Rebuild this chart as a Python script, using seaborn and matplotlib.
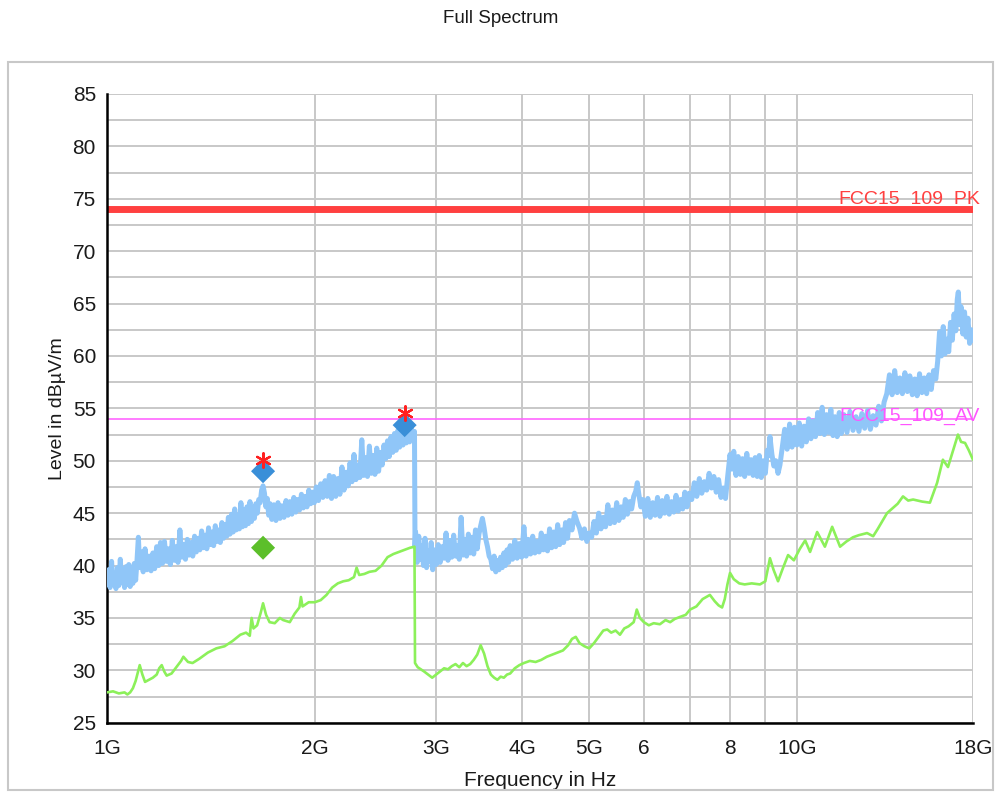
import matplotlib
matplotlib.use("Agg")
import matplotlib.pyplot as plt
import matplotlib.ticker as mticker
from matplotlib.patches import Rectangle
import seaborn as sns

# peak trace (GHz, dBuV/m)
blue_freq = [
    1.000, 1.005, 1.010, 1.015, 1.020, 1.025, 1.030, 1.035, 1.040, 1.045, 1.050,
    1.055, 1.060, 1.065, 1.070, 1.075, 1.080, 1.085, 1.090, 1.095, 1.100,
    1.105, 1.110, 1.115, 1.120, 1.128, 1.135, 1.142, 1.150, 1.158, 1.165, 1.172,
    1.180, 1.188, 1.195,
    1.203, 1.211, 1.219, 1.227, 1.235, 1.243, 1.251, 1.259, 1.267, 1.275, 1.283,
    1.291, 1.299, 1.307, 1.315, 1.323, 1.331, 1.339, 1.347, 1.355,
    1.363, 1.371, 1.379, 1.387, 1.395, 1.403, 1.411, 1.419, 1.427, 1.435, 1.443,
    1.451, 1.459, 1.467, 1.475, 1.483, 1.491, 1.499,
    1.507, 1.515, 1.523, 1.531, 1.539, 1.547, 1.555, 1.563, 1.571, 1.579, 1.587,
    1.595, 1.603, 1.611, 1.619, 1.627, 1.635, 1.643, 1.651, 1.659,
    1.667, 1.675, 1.683, 1.691, 1.699, 1.707, 1.715, 1.723,
    1.733, 1.745, 1.757, 1.769, 1.781, 1.793, 1.805, 1.817, 1.829, 1.841, 1.853,
    1.865, 1.877, 1.889, 1.901, 1.913, 1.925, 1.937, 1.949, 1.961, 1.973, 1.985,
    1.997, 2.010, 2.025, 2.040, 2.055, 2.070, 2.085, 2.100,
    2.115, 2.130, 2.145, 2.160, 2.175, 2.190, 2.205, 2.220, 2.235, 2.250, 2.265,
    2.280, 2.295, 2.310, 2.325, 2.340, 2.355, 2.370, 2.385, 2.400, 2.415, 2.430,
    2.445, 2.460, 2.475, 2.490,
    2.505, 2.520, 2.535, 2.550, 2.565, 2.580, 2.595, 2.610, 2.625, 2.640, 2.655,
    2.670, 2.685, 2.700, 2.715, 2.730, 2.745, 2.760, 2.775, 2.790,
    2.795,
    2.800, 2.815, 2.830, 2.845, 2.860, 2.875, 2.890, 2.905, 2.920, 2.935, 2.950,
    2.965, 2.980, 3.00, 3.02, 3.04, 3.06, 3.08, 3.10, 3.12, 3.14, 3.16, 3.18,
    3.20, 3.22, 3.24, 3.26, 3.28, 3.30, 3.32, 3.34, 3.36, 3.38, 3.40, 3.42, 3.44,
    3.46, 3.48, 3.50, 3.52, 3.54, 3.56, 3.58,
    3.60, 3.62, 3.64, 3.66, 3.68, 3.70, 3.72, 3.74, 3.76, 3.78, 3.80, 3.82, 3.84,
    3.87, 3.90, 3.93, 3.96, 3.99, 4.02, 4.05, 4.08, 4.11, 4.14, 4.17, 4.20, 4.23,
    4.26, 4.29, 4.32, 4.35, 4.38, 4.41, 4.44, 4.47, 4.50, 4.53, 4.56, 4.59, 4.62,
    4.65, 4.68,
    4.72, 4.76, 4.80, 4.84, 4.88, 4.92, 4.96, 5.00, 5.04,
    5.08, 5.12, 5.16, 5.20, 5.24, 5.28, 5.32, 5.36, 5.40, 5.44, 5.48, 5.52, 5.56,
    5.60, 5.64, 5.68, 5.72, 5.76, 5.80,
    5.84, 5.87, 5.90, 5.94, 5.98,
    6.03, 6.08, 6.13, 6.18, 6.23, 6.28, 6.33, 6.38, 6.43, 6.48, 6.53, 6.58, 6.63,
    6.68, 6.73, 6.78, 6.83, 6.88, 6.93, 6.98,
    7.04, 7.10, 7.16, 7.22, 7.28, 7.34, 7.40, 7.46, 7.52, 7.58, 7.64, 7.70, 7.76,
    7.82, 7.88,
    7.94, 8.00, 8.05, 8.10,
    8.16, 8.22, 8.28, 8.34, 8.40, 8.46, 8.52, 8.58, 8.64, 8.70, 8.76, 8.82, 8.88,
    8.94, 9.00, 9.06,
    9.10, 9.14, 9.20, 9.26, 9.32, 9.39, 9.45,
    9.52, 9.60, 9.68, 9.76, 9.84, 9.92, 10.00, 10.08, 10.16, 10.24, 10.32, 10.40,
    10.48,
    10.56, 10.64, 10.72, 10.80, 10.88, 10.96, 11.04, 11.12, 11.20, 11.28, 11.36,
    11.44, 11.52, 11.60,
    11.70, 11.82, 11.94, 12.06, 12.18, 12.30, 12.42, 12.54, 12.66, 12.78, 12.90,
    13.02, 13.14, 13.26, 13.38,
    13.50, 13.62, 13.74, 13.86, 13.98, 14.10, 14.22, 14.34, 14.46, 14.58, 14.70,
    14.82, 14.94, 15.06, 15.18, 15.30, 15.42, 15.54, 15.66, 15.78, 15.90,
    16.00, 16.10, 16.20, 16.30, 16.40, 16.50, 16.60, 16.70, 16.80, 16.90, 17.00,
    17.08, 17.14, 17.22, 17.30, 17.40, 17.50, 17.60, 17.70, 17.80, 17.90, 18.00,
]
blue_level = [
    38.2, 39.6, 37.9, 40.4, 38.3, 39.2, 37.8, 39.8, 38.1, 40.6, 38.4,
    39.5, 37.9, 39.9, 38.2, 40.1, 38.0, 39.4, 38.3, 40.2, 38.6,
    40.5, 42.7, 39.8, 41.3, 39.4, 41.6, 39.6, 40.9, 39.5, 41.2, 39.7,
    41.8, 40.0, 42.2,
    40.2, 42.3, 40.4, 41.6, 40.1, 42.4, 40.5, 41.8, 40.3, 43.4, 40.8,
    42.0, 40.6, 42.5, 41.0, 42.2, 40.9, 42.8, 41.3, 42.6,
    41.5, 43.3, 41.7, 42.9, 41.6, 43.6, 42.0, 43.2, 41.9, 43.8, 42.3,
    43.4, 42.2, 44.1, 42.6, 43.9, 42.8, 44.6,
    43.0, 44.9, 43.2, 45.4, 43.4, 44.8, 43.5, 46.0, 43.7, 45.3, 43.8,
    45.6, 44.0, 46.1, 44.2, 45.5, 44.5, 45.9, 45.0, 46.3,
    46.0, 47.2, 47.6, 46.9, 45.6, 46.4, 44.8, 45.9,
    44.4, 45.8, 44.3, 46.0, 44.5, 45.7, 44.6, 46.2, 44.8, 46.1, 44.9,
    46.5, 45.1, 46.3, 45.3, 46.8, 45.5, 46.6, 45.6, 47.2, 45.9, 47.0,
    46.0, 47.5, 46.2, 47.8, 46.5, 48.1, 46.6, 48.6,
    46.4, 48.5, 46.6, 48.3, 46.8, 49.4, 47.2, 48.9, 47.6, 49.8, 48.0,
    50.6, 48.2, 49.6, 48.4, 52.0, 48.6, 50.3, 48.5, 51.4, 48.8, 50.5,
    48.7, 51.2, 49.0, 50.8,
    49.6, 51.5, 50.2, 51.9, 50.4, 52.3, 50.8, 52.6, 51.0, 52.9, 51.3,
    53.1, 51.5, 53.3, 51.7, 53.0, 51.8, 53.2, 52.0, 52.8,
    41.8,
    43.2, 40.3, 42.8, 40.6, 41.9, 40.0, 42.6, 39.8, 41.4, 40.4, 42.2,
    39.6, 41.5, 40.1, 42.0, 40.3, 41.8, 40.7, 43.1, 40.5, 42.4, 40.8, 42.9,
    40.9, 41.9, 40.6, 44.6, 41.0, 42.5, 40.9, 43.0, 41.2, 42.7, 41.1, 43.4, 41.6,
    43.0, 43.8, 44.5, 43.6, 42.5, 41.8, 40.9,
    40.6, 39.7, 40.9, 39.4, 40.5, 39.6, 40.8, 39.8, 41.2, 40.0, 41.5, 40.3, 41.9,
    40.6, 42.4, 40.7, 42.1, 40.8, 43.7, 40.9, 42.5, 41.1, 42.8, 41.2, 42.3, 41.3,
    43.1, 41.5, 42.8, 41.4, 43.5, 41.7, 43.2, 41.8, 43.9, 42.0, 43.4, 42.2, 44.1,
    42.6, 44.3,
    43.4, 45.0, 44.2, 43.6, 42.6, 43.5, 42.3, 43.1, 42.7,
    44.2, 43.1, 45.0, 43.5, 44.6, 43.7, 45.8, 44.0, 45.3, 44.1, 46.0, 44.3, 45.6,
    44.6, 46.3, 44.9, 46.1, 45.4, 46.6,
    47.1, 47.9, 46.8, 45.6, 46.3,
    44.7, 46.4, 44.6, 46.0, 44.8, 46.5, 44.7, 46.2, 45.0, 46.6, 44.9, 46.1, 45.1,
    46.7, 45.2, 46.3, 45.4, 47.0, 45.6, 46.9,
    46.3, 47.9, 46.6, 48.3, 46.9, 48.0, 47.2, 48.8, 47.4, 48.5, 47.0, 48.2, 46.5,
    47.4, 46.4,
    48.6, 50.6, 49.2, 50.9,
    48.6, 50.4, 48.7, 50.2, 48.5, 50.7, 48.8, 50.1, 48.6, 50.3, 48.5, 50.5, 48.4,
    50.0, 48.8, 51.0,
    50.5, 52.3, 50.6, 49.5, 50.0, 48.8, 49.6,
    51.2, 53.0, 51.1, 53.5, 51.3, 53.2, 51.5, 53.6, 51.4, 53.3, 51.8, 54.0,
    52.1,
    53.8, 52.3, 54.6, 52.6, 55.1, 52.5, 54.4, 52.7, 54.9, 52.4, 54.2,
    52.3, 54.6, 52.6,
    54.4, 52.7, 54.7, 52.9, 54.2, 52.8, 54.5, 53.1, 54.8, 53.0, 54.3,
    53.4, 55.2, 53.8, 55.6,
    56.4, 58.2, 56.3, 58.6, 56.5, 57.9, 56.4, 58.4, 56.6, 58.1, 56.3,
    57.8, 56.2, 58.3, 56.5, 57.9, 56.4, 58.2, 56.8, 58.6, 57.8,
    59.5, 62.3, 60.0, 62.8, 60.2, 61.6, 60.4, 63.2, 61.5, 64.0, 62.4,
    65.4, 66.1, 63.0, 64.7, 62.1, 64.2, 61.8, 63.6, 61.2, 62.5, 61.5,
]

# average trace
green_freq = [
    1.00, 1.02, 1.04, 1.06, 1.07, 1.08, 1.09, 1.10, 1.115, 1.125, 1.135, 1.15,
    1.165, 1.18, 1.19, 1.20, 1.21, 1.22, 1.24, 1.26, 1.28, 1.29, 1.31, 1.33,
    1.36, 1.40, 1.44, 1.48, 1.52, 1.56, 1.59, 1.61, 1.62, 1.63, 1.65, 1.67,
    1.683, 1.70, 1.72, 1.75, 1.78, 1.80, 1.84, 1.87, 1.90, 1.91, 1.92, 1.96,
    2.00, 2.04, 2.08, 2.12, 2.16, 2.20, 2.24, 2.28, 2.30, 2.32, 2.36, 2.40,
    2.45, 2.50, 2.55, 2.60, 2.65, 2.70, 2.75, 2.79, 2.795, 2.82, 2.85, 2.88,
    2.92, 2.96, 3.00, 3.04, 3.08, 3.12, 3.16, 3.20, 3.24, 3.28, 3.32, 3.36,
    3.40, 3.44, 3.48, 3.52, 3.56, 3.60, 3.64, 3.68, 3.72, 3.76, 3.80, 3.84,
    3.90, 3.96, 4.02, 4.10, 4.18, 4.26, 4.34, 4.42, 4.50, 4.58, 4.66, 4.72,
    4.78, 4.84, 4.92, 5.00, 5.08, 5.16, 5.24, 5.31, 5.38, 5.46, 5.54, 5.62,
    5.70, 5.80, 5.86, 5.92, 6.00, 6.10, 6.20, 6.33, 6.45, 6.55, 6.65, 6.77,
    6.90, 7.00, 7.15, 7.30, 7.48, 7.60, 7.70, 7.79, 7.86, 7.93, 8.00, 8.10,
    8.25, 8.40, 8.60, 8.84, 9.00, 9.14, 9.25, 9.39, 9.55, 9.71, 9.90, 10.10,
    10.28, 10.45, 10.70, 10.98, 11.25, 11.55, 11.80, 12.06, 12.30, 12.64, 12.90,
    13.10, 13.51, 14.00, 14.25, 14.50, 14.74, 15.20, 15.59, 15.97, 16.28, 16.56,
    16.85, 17.12, 17.30, 17.53, 17.75, 18.00,
]
green_level = [
    27.9, 28.0, 27.8, 27.9, 27.7, 27.9, 28.3, 29.0, 30.5, 29.6, 28.9, 29.1,
    29.3, 29.6, 30.2, 30.5, 29.9, 29.5, 29.7, 30.3, 30.9, 31.3, 30.8, 30.7,
    31.1, 31.7, 32.1, 32.3, 32.8, 33.4, 33.6, 33.3, 35.0, 34.0, 34.3, 35.5,
    36.4, 35.3, 34.6, 34.5, 35.0, 34.8, 34.6, 35.4, 36.0, 37.0, 36.1, 36.5,
    36.5, 36.7, 37.2, 37.9, 38.3, 38.5, 38.6, 38.9, 39.8, 39.1, 39.2, 39.4,
    39.5, 40.0, 40.8, 41.1, 41.3, 41.5, 41.7, 41.8, 30.7, 30.3, 30.1, 29.9,
    29.6, 29.3, 29.6, 29.9, 30.2, 30.1, 30.4, 30.6, 30.3, 30.7, 30.4, 30.6,
    31.0, 31.5, 32.4, 31.6, 30.4, 29.6, 29.3, 29.1, 29.4, 29.3, 29.6, 29.7,
    30.2, 30.5, 30.7, 30.9, 30.8, 31.0, 31.3, 31.5, 31.7, 31.9, 32.4, 33.0,
    33.2, 32.6, 32.3, 32.1, 32.6, 33.2, 33.8, 33.9, 33.6, 33.8, 33.4, 34.0,
    34.2, 34.6, 35.8, 35.0, 34.6, 34.3, 34.5, 34.4, 34.8, 34.6, 34.9, 35.1,
    35.3, 35.8, 36.1, 36.8, 37.2, 36.6, 36.2, 36.0, 36.8, 38.2, 39.3, 38.7,
    38.3, 38.2, 38.3, 38.2, 38.5, 40.7, 39.6, 38.5, 39.8, 41.0, 40.5, 41.6,
    42.4, 41.3, 43.2, 41.8, 43.7, 41.8, 42.3, 42.7, 42.9, 43.1, 42.8,
    43.5, 45.0, 45.9, 46.6, 46.2, 46.3, 46.1, 46.0, 47.9, 50.1, 49.4,
    51.0, 52.5, 51.8, 51.7, 51.0, 50.1,
]

# final measurement markers
peak_freq = [1.683, 2.70]
peak_level = [49.0, 53.4]
peak_star = [50.1, 54.6]
avg_freq = [1.683]
avg_level = [41.7]

limit_pk = 74.0
limit_av = 54.0

x_ticks = [1, 2, 3, 4, 5, 6, 8, 10, 18]
x_labels = ["1G", "2G", "3G", "4G", "5G", "6", "8", "10G", "18G"]
x_minor = [7, 9]

sns.set_style("white")
plt.rcParams["font.family"] = ["Liberation Sans", "DejaVu Sans"]

fig = plt.figure(figsize=(10.01, 7.96), dpi=100)
ax = fig.add_axes([0.107, 0.092, 0.865, 0.790])

# outer frame
fig.patches.append(Rectangle((0.008, 0.007), 0.984, 0.915, transform=fig.transFigure,
                             fill=False, edgecolor="#c8c8c8", linewidth=1.5))

ax.axhline(limit_pk, color="#ff4040", linewidth=5, zorder=2)
ax.axhline(limit_av, color="#ff66ff", linewidth=1.2, zorder=2)

sns.lineplot(x=blue_freq, y=blue_level, ax=ax, color="#90c6f8", linewidth=3.6,
             estimator=None, sort=False, zorder=3)
sns.lineplot(x=green_freq, y=green_level, ax=ax, color="#8cf05a", linewidth=1.9,
             estimator=None, sort=False, zorder=3)

sns.scatterplot(x=peak_freq, y=peak_level, ax=ax, marker="D", s=150, color="#3a8fd8",
                edgecolor="none", zorder=5)
sns.scatterplot(x=avg_freq, y=avg_level, ax=ax, marker="D", s=150, color="#5cbf2a",
                edgecolor="none", zorder=5)
sns.scatterplot(x=peak_freq, y=peak_star, ax=ax, marker=(6, 2, 0), s=110, color="#ff2020",
                linewidth=1.6, zorder=6)

ax.text(1.008, limit_pk + 0.1, "FCC15_109_PK", transform=ax.get_yaxis_transform(),
        ha="right", va="bottom", color="#ff4040", fontsize=14)
ax.text(1.008, limit_av + 0.2, "FCC15_109_AV", transform=ax.get_yaxis_transform(),
        ha="right", va="center", color="#ff55ff", fontsize=14)

ax.set_xscale("log")
ax.set_xlim(1, 18)
ax.set_ylim(25, 85)
ax.xaxis.set_major_locator(mticker.FixedLocator(x_ticks))
ax.xaxis.set_major_formatter(mticker.FixedFormatter(x_labels))
ax.xaxis.set_minor_locator(mticker.FixedLocator(x_minor))
ax.xaxis.set_minor_formatter(mticker.NullFormatter())
ax.yaxis.set_major_locator(mticker.MultipleLocator(5))
ax.yaxis.set_minor_locator(mticker.MultipleLocator(2.5))

ax.grid(True, which="both", color="#c8c8c8", linewidth=1.4, zorder=0)
ax.set_axisbelow(True)

for side in ["top", "right"]:
    ax.spines[side].set_visible(False)
for side in ["left", "bottom"]:
    ax.spines[side].set_color("black")
    ax.spines[side].set_linewidth(1.8)

ax.tick_params(which="both", direction="inout", color="black", width=1.8)
ax.tick_params(axis="y", which="major", length=12, labelsize=15, pad=2,
               labelcolor="#1a1a1a")
ax.tick_params(axis="y", which="minor", length=12)
ax.tick_params(axis="x", which="both", length=14, labelsize=15, pad=5,
               labelcolor="#1a1a1a")

ax.set_xlabel("Frequency in Hz", fontsize=15, labelpad=9, color="#1a1a1a")
ax.set_ylabel("Level in dBµV/m", fontsize=14, labelpad=5, color="#1a1a1a")

fig.text(0.5, 0.977, "Full Spectrum", ha="center", va="center", fontsize=13.5,
         color="#1a1a1a")

fig.savefig("out.png", dpi=100)
